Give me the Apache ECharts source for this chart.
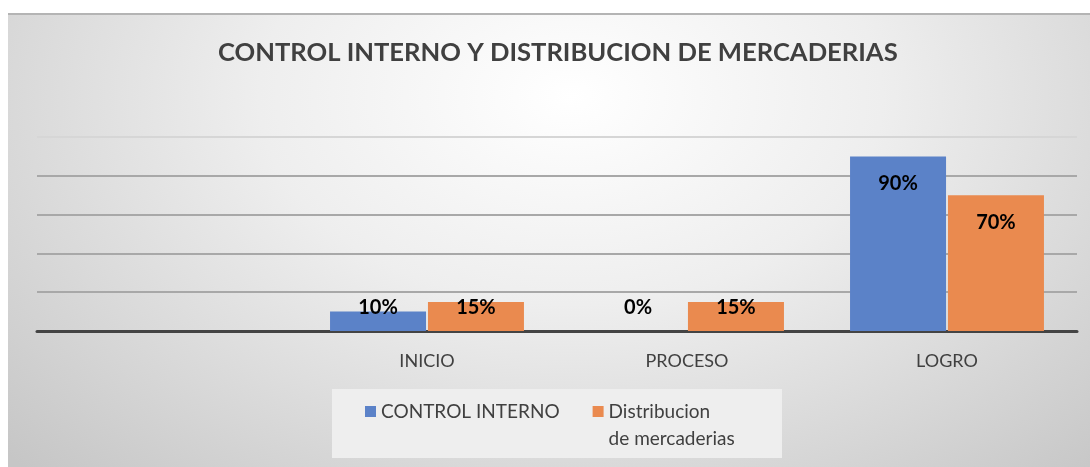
<!DOCTYPE html>
<html>
<head>
<meta charset="utf-8">
<script src="https://cdn.jsdelivr.net/npm/echarts@6/dist/echarts.min.js"></script>
<style>
  html, body { margin: 0; padding: 0; background: #ffffff; }
  #chart, #frame {
    position: absolute;
    left: 8px;
    top: 13px;
    width: 1082px;
    height: 454px;
  }
  #frame {
    border-top: 2px solid #b4b4b4;
    box-sizing: border-box;
    background: radial-gradient(ellipse 72% 115% at 52% 18%, #ffffff 0%, #eeeeee 40%, #dadada 70%, #c6c6c6 100%);
  }
</style>
</head>
<body>
<div id="frame"></div>
<div id="chart"></div>
<script>
const TITLE = 'CONTROL INTERNO Y DISTRIBUCION DE MERCADERIAS';
const categories = ['', 'INICIO', 'PROCESO', 'LOGRO'];
const controlInterno = [null, 0.10, 0.00, 0.90];
const distribucion = [null, 0.15, 0.15, 0.70];
const seriesNames = ['CONTROL INTERNO', 'Distribucion de mercaderias'];
const colors = ['#5b82c8', '#ea8a4f'];

const pct = (value) => `${Math.round(value * 100)}%`;

// big bars get the label inside near the top, small ones sit just above the axis
function labelFor(value) {
  if (value == null) return { show: false };
  return value >= 0.3
    ? { position: 'insideTop', distance: 17 }
    : { position: 'insideBottom', distance: 13 };
}

function barSeries(name, values, color) {
  return {
    name,
    type: 'bar',
    barWidth: 96,
    barGap: '2%',
    itemStyle: { color },
    label: {
      show: true,
      color: '#000000',
      fontFamily: 'Lato',
      fontWeight: 'bold',
      fontSize: 20,
      formatter: (p) => pct(p.value),
    },
    data: values.map((value) => ({ value, label: labelFor(value) })),
  };
}

const chart = echarts.init(document.getElementById('chart'));
chart.setOption({
  backgroundColor: 'transparent',
  animation: false,
  color: colors,
  title: {
    text: TITLE,
    left: 210,
    top: 27,
    padding: 0,
    textStyle: { fontFamily: 'Lato', fontWeight: 'bold', fontSize: 25.6, color: '#404040' },
  },
  graphic: [{
    type: 'rect',
    z: -1,
    shape: { x: 324, y: 376, width: 450, height: 69 },
    style: { fill: '#eeeeee' },
  }],
  legend: {
    left: 357,
    top: 358,
    padding: 0,
    itemWidth: 11,
    itemHeight: 11,
    itemGap: 33,
    icon: 'rect',
    textStyle: { fontFamily: 'Lato', fontSize: 19, color: '#404040', lineHeight: 27 },
    // leading blank line keeps the first text line level with the marker
    formatter: (name) => (name.includes(' de ') ? `\n${name.replace(' de ', '\nde ')}` : name),
  },
  grid: { left: 29, right: 13, top: 124, bottom: 136 },
  xAxis: {
    type: 'category',
    data: categories,
    axisTick: { show: false },
    axisLine: { lineStyle: { color: '#444444', width: 3 } },
    axisLabel: { color: '#404040', fontFamily: 'Lato', fontSize: 18, margin: 21 },
  },
  yAxis: {
    type: 'value',
    min: 0,
    max: 1,
    interval: 0.2,
    axisLabel: { show: false },
    axisLine: { show: false },
    axisTick: { show: false },
    splitLine: {
      lineStyle: { color: ['#a8a8a8', '#a8a8a8', '#a8a8a8', '#a8a8a8', '#a8a8a8', '#d6d6d6'], width: 2 },
    },
  },
  series: [
    barSeries(seriesNames[0], controlInterno, colors[0]),
    barSeries(seriesNames[1], distribucion, colors[1]),
  ],
});
</script>
</body>
</html>
